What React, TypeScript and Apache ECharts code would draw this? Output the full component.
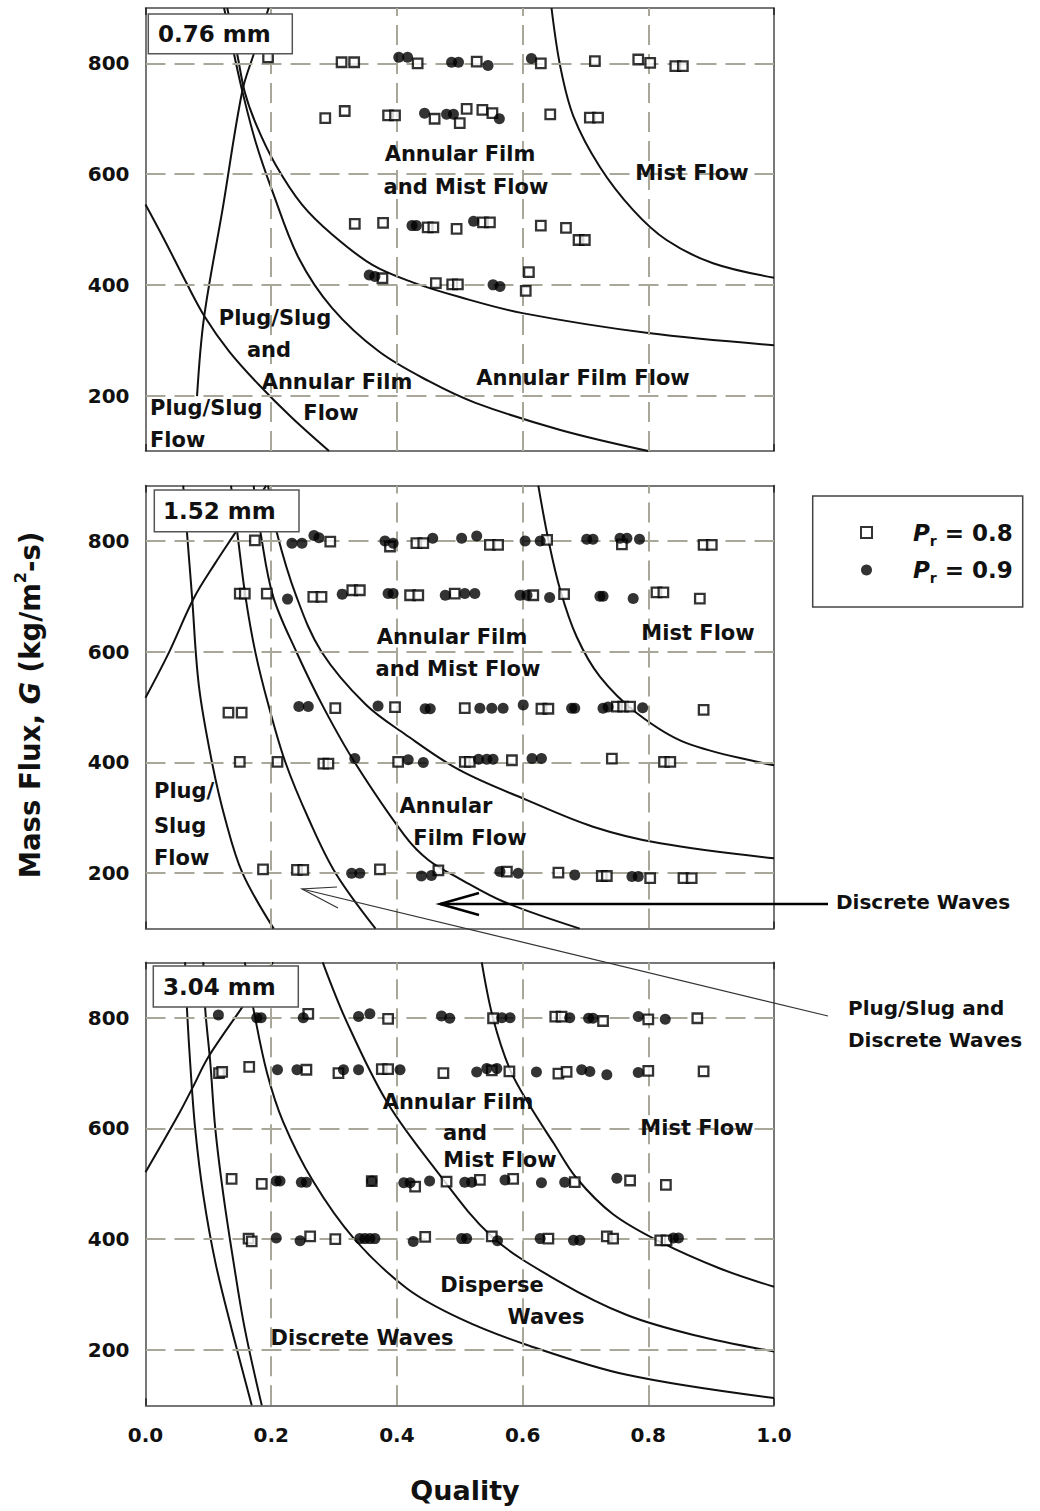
import { useEffect, useRef } from "react";
import * as echarts from "echarts";

type Pt = [number, number];

// ---------- axis / legend content ----------
const X_TICK_VALUES = [0, 0.2, 0.4, 0.6, 0.8, 1.0];
const Y_TICK_VALUES = [200, 400, 600, 800];
const DIAMETERS = ["0.76 mm", "1.52 mm", "3.04 mm"];
const NAME_08 = "Pr08";
const NAME_09 = "Pr09";

// ---------- panel 1 (0.76 mm) transition curves ----------
const P1_RISE: Pt[] = [[0.082, 199], [0.093, 340], [0.123, 539], [0.154, 750], [0.172, 816], [0.196, 900]];
const P1_B: Pt[] = [[0, 545], [0.032, 477], [0.064, 406], [0.094, 343], [0.133, 280], [0.18, 220], [0.233, 160], [0.292, 100]];
const P1_C: Pt[] = [[0.125, 900], [0.141, 816], [0.154, 750], [0.175, 659], [0.202, 569], [0.244, 448], [0.297, 358], [0.371, 280], [0.451, 226], [0.525, 187], [0.66, 138], [0.8, 100]];
const P1_D: Pt[] = [[0.13, 900], [0.146, 816], [0.158, 748], [0.177, 687], [0.207, 617], [0.249, 545], [0.297, 491], [0.361, 436], [0.424, 405], [0.5, 378], [0.6, 349], [0.8, 313], [1.0, 291]];
const P1_E: Pt[] = [[0.646, 900], [0.66, 794], [0.681, 704], [0.723, 613], [0.776, 535], [0.829, 481], [0.903, 439], [1.0, 413]];

// ---------- panel 2 (1.52 mm) transition curves ----------
const P2_RISE: Pt[] = [[0, 517], [0.037, 598], [0.077, 697], [0.111, 760], [0.143, 815], [0.192, 900]];
const P2_C1: Pt[] = [[0.06, 900], [0.066, 815], [0.074, 700], [0.085, 538], [0.106, 399], [0.127, 297], [0.154, 201], [0.204, 100]];
const P2_C2: Pt[] = [[0.136, 900], [0.146, 815], [0.159, 700], [0.175, 598], [0.196, 502], [0.223, 399], [0.26, 297], [0.302, 201], [0.366, 100]];
const P2_C3: Pt[] = [[0.172, 900], [0.183, 815], [0.203, 700], [0.24, 600], [0.283, 500], [0.333, 400], [0.413, 267], [0.45, 224], [0.5, 190], [0.571, 148], [0.691, 100]];
const P2_C4: Pt[] = [[0.195, 900], [0.209, 815], [0.24, 700], [0.28, 600], [0.35, 505], [0.413, 451], [0.5, 386], [0.607, 332], [0.712, 284], [0.819, 254], [1.0, 227]];
const P2_C5: Pt[] = [[0.625, 900], [0.641, 802], [0.66, 711], [0.686, 627], [0.723, 555], [0.782, 489], [0.861, 435], [1.0, 395]];

// ---------- panel 3 (3.04 mm) transition curves ----------
const P3_RISE: Pt[] = [[0, 521], [0.053, 626], [0.076, 676], [0.1, 729], [0.154, 819], [0.203, 900]];
const P3_C1: Pt[] = [[0.063, 900], [0.066, 816], [0.071, 720], [0.079, 600], [0.092, 479], [0.111, 359], [0.137, 238], [0.169, 100]];
const P3_C2: Pt[] = [[0.092, 900], [0.095, 816], [0.103, 720], [0.111, 600], [0.124, 479], [0.14, 359], [0.158, 238], [0.185, 100]];
const P3_C3: Pt[] = [[0.158, 900], [0.172, 814], [0.193, 702], [0.219, 612], [0.267, 504], [0.331, 402], [0.416, 311], [0.5, 257], [0.607, 209], [0.766, 155], [1.0, 113]];
const P3_C4: Pt[] = [[0.282, 900], [0.32, 793], [0.384, 648], [0.46, 528], [0.551, 405], [0.659, 323], [0.766, 263], [0.872, 227], [1.0, 197]];
const P3_C5: Pt[] = [[0.535, 900], [0.553, 799], [0.58, 706], [0.612, 640], [0.649, 574], [0.686, 510], [0.744, 445], [0.819, 395], [0.914, 347], [1.0, 314]];

// ---------- data points: Pr = 0.8 (open squares) ----------
const P1_PR08: Pt[] = [
  [0.195, 811], [0.312, 802], [0.332, 802], [0.433, 800], [0.527, 803], [0.629, 800], [0.715, 804], [0.784, 807], [0.803, 801], [0.843, 795], [0.855, 795],
  [0.286, 701], [0.317, 714], [0.386, 706], [0.397, 706], [0.46, 700], [0.5, 692], [0.511, 718], [0.536, 716], [0.552, 710], [0.644, 708], [0.707, 702], [0.72, 702],
  [0.333, 510], [0.378, 512], [0.449, 504], [0.458, 504], [0.495, 501], [0.537, 513], [0.548, 513], [0.629, 507], [0.669, 503], [0.689, 481], [0.699, 481],
  [0.377, 412], [0.462, 403], [0.488, 401], [0.497, 401], [0.61, 423], [0.605, 389],
];
const P2_PR08: Pt[] = [
  [0.174, 801], [0.294, 799], [0.389, 790], [0.431, 796], [0.442, 796], [0.548, 793], [0.561, 793], [0.639, 802], [0.758, 794], [0.888, 793], [0.901, 793],
  [0.15, 705], [0.158, 705], [0.193, 705], [0.267, 699], [0.28, 699], [0.329, 711], [0.341, 711], [0.421, 702], [0.434, 702], [0.492, 705], [0.617, 702], [0.666, 704], [0.813, 707], [0.824, 707], [0.882, 696],
  [0.132, 490], [0.153, 490], [0.302, 498], [0.397, 500], [0.508, 498], [0.63, 497], [0.641, 497], [0.75, 501], [0.76, 501], [0.771, 501], [0.888, 495],
  [0.15, 401], [0.21, 401], [0.283, 398], [0.291, 398], [0.402, 401], [0.508, 401], [0.516, 401], [0.583, 404], [0.742, 407], [0.825, 401], [0.835, 401],
  [0.187, 207], [0.241, 206], [0.251, 206], [0.373, 207], [0.466, 205], [0.575, 203], [0.657, 201], [0.726, 195], [0.734, 195], [0.803, 191], [0.856, 191], [0.869, 191],
];
const P3_PR08: Pt[] = [
  [0.259, 807], [0.386, 798], [0.553, 799], [0.652, 802], [0.662, 802], [0.728, 794], [0.8, 797], [0.878, 799],
  [0.117, 700], [0.122, 702], [0.165, 711], [0.256, 706], [0.307, 700], [0.376, 707], [0.386, 707], [0.474, 700], [0.551, 705], [0.579, 703], [0.657, 699], [0.67, 702], [0.8, 704], [0.888, 703],
  [0.137, 509], [0.185, 500], [0.36, 505], [0.429, 495], [0.479, 504], [0.532, 507], [0.585, 509], [0.683, 503], [0.771, 506], [0.828, 498],
  [0.164, 401], [0.169, 396], [0.262, 405], [0.302, 400], [0.445, 404], [0.551, 405], [0.641, 401], [0.734, 405], [0.744, 401], [0.819, 398], [0.829, 398],
];

// ---------- data points: Pr = 0.9 (filled circles) ----------
const P1_PR09: Pt[] = [
  [0.403, 811], [0.417, 811], [0.487, 802], [0.498, 802], [0.545, 796], [0.614, 809],
  [0.444, 710], [0.479, 708], [0.49, 708], [0.563, 700],
  [0.424, 507], [0.431, 507], [0.522, 515],
  [0.356, 418], [0.365, 415], [0.553, 400], [0.564, 397],
];
const P2_PR09: Pt[] = [
  [0.233, 796], [0.249, 796], [0.268, 810], [0.276, 806], [0.381, 800], [0.394, 796], [0.457, 805], [0.503, 805], [0.527, 809], [0.604, 800], [0.628, 800], [0.702, 803], [0.712, 803], [0.755, 805], [0.766, 805], [0.786, 803],
  [0.226, 695], [0.313, 704], [0.386, 705], [0.394, 705], [0.477, 702], [0.508, 705], [0.524, 705], [0.596, 702], [0.607, 702], [0.643, 698], [0.723, 700], [0.728, 700], [0.776, 696],
  [0.244, 501], [0.259, 501], [0.37, 502], [0.445, 497], [0.453, 497], [0.532, 498], [0.551, 498], [0.569, 498], [0.601, 504], [0.678, 498], [0.683, 498], [0.728, 498], [0.736, 500], [0.791, 499],
  [0.333, 407], [0.418, 405], [0.442, 400], [0.53, 406], [0.543, 406], [0.553, 406], [0.615, 407], [0.63, 407],
  [0.328, 200], [0.341, 200], [0.439, 195], [0.455, 196], [0.564, 203], [0.593, 200], [0.683, 197], [0.774, 194], [0.784, 194],
];
const P3_PR09: Pt[] = [
  [0.116, 805], [0.177, 800], [0.184, 800], [0.251, 800], [0.339, 802], [0.357, 807], [0.471, 803], [0.484, 799], [0.567, 800], [0.58, 800], [0.675, 800], [0.705, 799], [0.712, 799], [0.784, 802], [0.827, 797],
  [0.21, 706], [0.241, 706], [0.315, 706], [0.339, 706], [0.405, 706], [0.527, 702], [0.543, 708], [0.559, 708], [0.622, 702], [0.694, 706], [0.707, 703], [0.734, 697], [0.784, 701],
  [0.208, 505], [0.214, 505], [0.248, 503], [0.256, 503], [0.36, 505], [0.411, 502], [0.421, 502], [0.452, 505], [0.508, 503], [0.519, 503], [0.572, 507], [0.63, 502], [0.667, 503], [0.75, 510],
  [0.208, 402], [0.246, 397], [0.341, 401], [0.349, 401], [0.357, 401], [0.365, 401], [0.426, 396], [0.503, 401], [0.511, 401], [0.56, 397], [0.628, 401], [0.681, 398], [0.691, 398], [0.84, 402], [0.848, 402],
];

const PANEL_CURVES: Pt[][][] = [
  [P1_RISE, P1_B, P1_C, P1_D, P1_E],
  [P2_RISE, P2_C1, P2_C2, P2_C3, P2_C4, P2_C5],
  [P3_RISE, P3_C1, P3_C2, P3_C3, P3_C4, P3_C5],
];
const PANEL_PR08: Pt[][] = [P1_PR08, P2_PR08, P3_PR08];
const PANEL_PR09: Pt[][] = [P1_PR09, P2_PR09, P3_PR09];

// ---------- layout / style ----------
const FONT = "DejaVu Sans";
const INK = "#111";
const FRAME = "#4a4a4a";
const GRIDLINE = "#a8a799";
const GRID_LEFT = 145.5;
const GRID_W = 628.5;
const GRID_H = 443;
const GRID_TOPS = [8, 485.6, 962.3];
const LABEL_BOXES = [
  { x: 148.3, y: 14, w: 144, h: 39.7, tx: 158, ty: 34 },
  { x: 154.3, y: 490, w: 144.7, h: 41.7, tx: 163, ty: 511 },
  { x: 153.3, y: 966, w: 145, h: 41, tx: 163, ty: 987 },
];

function txt(text: string, x: number, y: number, align = "center", size = 21) {
  return {
    type: "text",
    x,
    y,
    z: 40,
    style: {
      text,
      fill: INK,
      fontFamily: FONT,
      fontWeight: "bold",
      fontSize: size,
      align,
      verticalAlign: "middle",
    },
  };
}

function buildOption() {
  const grid = GRID_TOPS.map((top) => ({ left: GRID_LEFT, top, width: GRID_W, height: GRID_H }));

  const tickStyle = { show: true, inside: true, length: 7, lineStyle: { color: "#222", width: 1.5 } };
  const lineStyle = { show: true, onZero: false, lineStyle: { color: FRAME, width: 1.5 } };
  const labelFont = { fontFamily: FONT, fontWeight: "bold", fontSize: 20, color: "#111" };

  const xAxis: any[] = [];
  const yAxis: any[] = [];
  ["bottom", "top"].forEach((pos) => {
    for (let i = 0; i < 3; i++) {
      xAxis.push({
        type: "value",
        gridIndex: i,
        position: pos,
        min: 0,
        max: 1,
        interval: 0.2,
        axisLine: lineStyle,
        axisTick: tickStyle,
        axisLabel: {
          show: pos === "bottom" && i === 2,
          margin: 20,
          ...labelFont,
          formatter: (v: number) => v.toFixed(1),
        },
        splitLine: { show: false },
      });
    }
  });
  ["left", "right"].forEach((pos) => {
    for (let i = 0; i < 3; i++) {
      yAxis.push({
        type: "value",
        gridIndex: i,
        position: pos,
        min: 100,
        max: 900,
        axisLine: lineStyle,
        axisTick: { ...tickStyle, customValues: Y_TICK_VALUES },
        axisLabel: {
          show: pos === "left",
          customValues: Y_TICK_VALUES,
          margin: 16,
          ...labelFont,
        },
        splitLine: { show: false },
      });
    }
  });

  const series: any[] = [];
  for (let i = 0; i < 3; i++) {
    // dashed reference grid lines, positioned through the axes
    series.push({
      type: "line",
      xAxisIndex: i,
      yAxisIndex: i,
      data: [[0, 100]],
      symbol: "none",
      silent: true,
      lineStyle: { opacity: 0 },
      z: 1,
      markLine: {
        silent: true,
        symbol: ["none", "none"],
        label: { show: false },
        animation: false,
        lineStyle: { type: [20, 9], color: GRIDLINE, width: 2 },
        emphasis: { disabled: true },
        data: [
          ...Y_TICK_VALUES.map((v) => ({ yAxis: v })),
          ...X_TICK_VALUES.filter((v) => v > 0 && v < 1).map((v) => ({ xAxis: v })),
        ],
      },
    });
    PANEL_CURVES[i].forEach((c) => {
      series.push({
        type: "line",
        xAxisIndex: i,
        yAxisIndex: i,
        data: c,
        smooth: 0.35,
        symbol: "none",
        silent: true,
        lineStyle: { color: INK, width: 2 },
        z: 3,
      });
    });
    series.push({
      type: "scatter",
      name: NAME_08,
      xAxisIndex: i,
      yAxisIndex: i,
      data: PANEL_PR08[i],
      symbol: "rect",
      symbolSize: 9.5,
      itemStyle: { color: "#fff", borderColor: "#000", borderWidth: 2.3 },
      z: 5,
    });
    series.push({
      type: "scatter",
      name: NAME_09,
      xAxisIndex: i,
      yAxisIndex: i,
      data: PANEL_PR09[i],
      symbol: "circle",
      symbolSize: 11,
      itemStyle: { color: "#000" },
      z: 6,
    });
  }

  const richLegend = {
    g: { width: 36 },
    i: { fontFamily: FONT, fontWeight: "bold", fontStyle: "italic", fontSize: 23, lineHeight: 30, color: INK },
    s: { fontFamily: FONT, fontWeight: "bold", fontSize: 14, verticalAlign: "bottom", color: INK },
    t: { fontFamily: FONT, fontWeight: "bold", fontSize: 23, lineHeight: 30, color: INK },
  };

  const graphic: any[] = [
    // legend frame
    {
      type: "rect",
      z: 0,
      shape: { x: 812.7, y: 496, width: 210, height: 111 },
      style: { fill: "#fff", stroke: "#444", lineWidth: 1.5 },
    },
    // diameter boxes
    ...LABEL_BOXES.flatMap((b, i) => [
      {
        type: "rect",
        z: 50,
        shape: { x: b.x, y: b.y, width: b.w, height: b.h },
        style: { fill: "#fff", stroke: "#555", lineWidth: 1.5 },
      },
      { ...txt(DIAMETERS[i], b.tx, b.ty, "left", 23), z: 51 },
    ]),
    // panel 1 regime labels
    txt("Annular Film", 460, 154),
    txt("and Mist Flow", 466, 187),
    txt("Mist Flow", 692, 173),
    txt("Plug/Slug", 275, 318),
    txt("and", 269, 350),
    txt("Annular Film", 337, 382),
    txt("Flow", 331, 413),
    txt("Annular Film Flow", 583, 378),
    txt("Plug/Slug", 150, 408, "left"),
    txt("Flow", 150, 440, "left"),
    // panel 2 regime labels
    txt("Annular Film", 452, 637),
    txt("and Mist Flow", 458, 669),
    txt("Mist Flow", 698, 633),
    txt("Annular", 446, 806),
    txt("Film Flow", 470, 838),
    txt("Plug/", 154, 791, "left"),
    txt("Slug", 154, 826, "left"),
    txt("Flow", 154, 858, "left"),
    // panel 3 regime labels
    txt("Annular Film", 458, 1102),
    txt("and", 465, 1133),
    txt("Mist Flow", 500, 1160),
    txt("Mist Flow", 697, 1128),
    txt("Disperse", 492, 1285),
    txt("Waves", 546, 1317),
    txt("Discrete Waves", 362, 1338),
    // outside annotations
    txt("Discrete Waves", 836, 902, "left", 20),
    txt("Plug/Slug and", 848, 1008, "left", 20),
    txt("Discrete Waves", 848, 1040, "left", 20),
    {
      type: "line",
      z: 45,
      shape: { x1: 440, y1: 904, x2: 828, y2: 904 },
      style: { stroke: "#000", lineWidth: 2.5 },
    },
    {
      type: "polyline",
      z: 45,
      shape: { points: [[479, 893], [440, 904], [479, 915]] },
      style: { stroke: "#000", lineWidth: 2.5, fill: "none" },
    },
    {
      type: "line",
      z: 45,
      shape: { x1: 302, y1: 889, x2: 828, y2: 1016 },
      style: { stroke: "#333", lineWidth: 1.2 },
    },
    {
      type: "polyline",
      z: 45,
      shape: { points: [[337, 887], [302, 889], [338, 908]] },
      style: { stroke: "#333", lineWidth: 1.2, fill: "none" },
    },
    // axis titles
    {
      type: "text",
      x: 30,
      y: 705,
      rotation: Math.PI / 2,
      z: 40,
      style: {
        text: "{a|Mass Flux, }{g|G}{a| (kg/m}{p|2}{a|-s)}",
        align: "center",
        verticalAlign: "middle",
        rich: {
          a: { fontFamily: FONT, fontWeight: "bold", fontSize: 27.5, lineHeight: 36, fill: INK },
          g: { fontFamily: FONT, fontWeight: "bold", fontStyle: "italic", fontSize: 27.5, lineHeight: 36, fill: INK },
          p: { fontFamily: FONT, fontWeight: "bold", fontSize: 16, verticalAlign: "top", fill: INK },
        },
      },
    },
    txt("Quality", 465, 1490, "center", 27),
  ];

  return {
    animation: false,
    backgroundColor: "#fff",
    grid,
    xAxis,
    yAxis,
    series,
    graphic,
    legend: {
      data: [NAME_08, NAME_09],
      orient: "vertical",
      left: 855,
      top: 516,
      itemWidth: 11,
      itemHeight: 11,
      itemGap: 11,
      selectedMode: false,
      formatter: (name: string) =>
        name === NAME_08 ? "{g|}{i|P}{s|r}{t| = 0.8}" : "{g|}{i|P}{s|r}{t| = 0.9}",
      textStyle: { fontFamily: FONT, fontWeight: "bold", fontSize: 23, color: INK, rich: richLegend },
    },
  };
}

export default function App() {
  const ref = useRef<HTMLDivElement>(null);
  useEffect(() => {
    document.body.style.margin = "0";
    if (!ref.current) return;
    const chart = echarts.init(ref.current, undefined, { renderer: "svg" });
    chart.setOption(buildOption() as any);
    return () => chart.dispose();
  }, []);
  return <div ref={ref} style={{ width: 1040, height: 1511 }} />;
}
